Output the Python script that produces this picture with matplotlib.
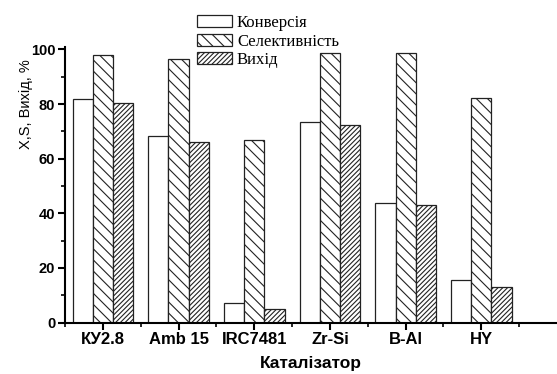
import matplotlib
matplotlib.use("Agg")
import matplotlib.pyplot as plt
import numpy as np
from matplotlib.ticker import MultipleLocator

catalysts = ["КУ2.8", "Amb 15", "IRC7481", "Zr-Si", "B-Al", "HY"]
conversion = [82.0, 68.3, 7.0, 73.3, 43.7, 15.6]
selectivity = [98.0, 96.4, 66.8, 98.6, 98.6, 82.3]
vykhid = [80.4, 66.1, 4.8, 72.2, 42.9, 12.9]

series_names = ["Конверсія", "Селективність", "Вихід"]

plt.rcParams["hatch.linewidth"] = 0.8

fig = plt.figure(figsize=(5.57, 3.74), dpi=100)
ax = fig.add_axes([65 / 557, 1 - 322.5 / 374, 1 - 65 / 557, (322.5 - 46.7) / 374])

x = np.arange(len(catalysts))
w = 0.8 / 3
ax.bar(x - w, conversion, w, color="white", edgecolor="#222222", linewidth=0.9,
       label=series_names[0])
ax.bar(x, selectivity, w, color="white", edgecolor="#222222", linewidth=0.9,
       hatch="\\\\\\", label=series_names[1])
ax.bar(x + w, vykhid, w, color="white", edgecolor="#222222", linewidth=0.9,
       hatch="///////", label=series_names[2])

ax.set_xlim(-0.5, 6.0)
ax.set_ylim(0, 101)
ax.set_xticks(x)
ax.set_xticklabels(catalysts)
ax.xaxis.set_minor_locator(MultipleLocator(1, offset=0.5))
ax.yaxis.set_major_locator(MultipleLocator(20))
ax.yaxis.set_minor_locator(MultipleLocator(10))

for s in ["top", "right"]:
    ax.spines[s].set_visible(False)
ax.spines["left"].set_linewidth(1.5)
ax.spines["bottom"].set_linewidth(1.5)

ax.tick_params(axis="both", which="major", length=5, width=1.5, direction="out", pad=2)
ax.tick_params(axis="both", which="minor", length=3, width=1.2, direction="out")
for lab in ax.get_xticklabels():
    lab.set_fontweight("bold")
    lab.set_fontsize(12)
    lab.set_family("Liberation Sans")
for lab in ax.get_yticklabels():
    lab.set_fontweight("bold")
    lab.set_fontsize(10.5)
    lab.set_family("Liberation Sans")

ax.set_ylabel("X,S, Вихід, %", fontsize=10.5, family="Liberation Sans")
ax.yaxis.set_label_coords(-0.066, 0.79)
ax.set_xlabel("Каталізатор", fontsize=12.5, fontweight="bold", family="Liberation Sans",
              labelpad=6)

leg = ax.legend(loc="upper left", bbox_to_anchor=(197 / 557, 1 - 15 / 374),
                bbox_transform=fig.transFigure, frameon=False,
                prop={"family": "Liberation Serif", "size": 12},
                handlelength=2.1, handleheight=0.75, handletextpad=0.3,
                labelspacing=0.15, borderaxespad=0, borderpad=0)

fig.savefig("out.png", dpi=100)
